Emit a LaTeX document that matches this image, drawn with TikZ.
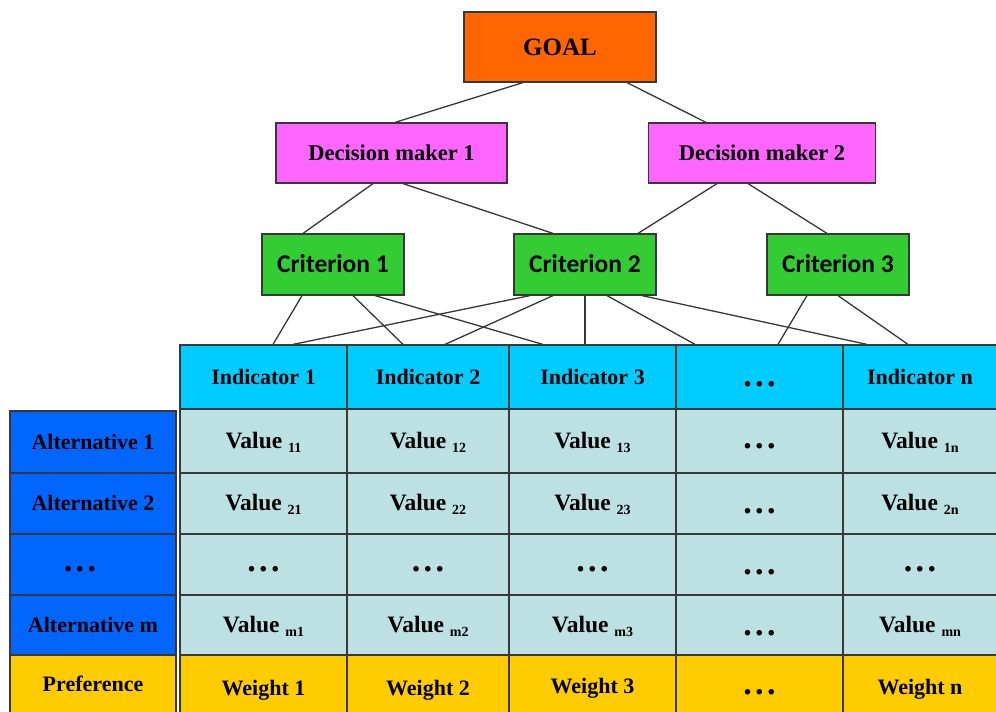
\documentclass[tikz,border=0pt]{standalone}
\usepackage{fontspec}
\setmainfont{Liberation Serif}
\newfontfamily\calib{Carlito}
\usetikzlibrary{calc}
\definecolor{goalc}{HTML}{FF6600}
\definecolor{dmc}{HTML}{FF66FF}
\definecolor{critc}{HTML}{33CC33}
\definecolor{headc}{HTML}{00CCFF}
\definecolor{valc}{HTML}{BDE0E3}
\definecolor{altc}{HTML}{0066FF}
\definecolor{wc}{HTML}{FFCC00}
\definecolor{edgec}{HTML}{383838}
\newcommand\sbs[1]{\raisebox{-4pt}{\fontsize{14}{14}\selectfont #1}}
\newcommand\vtext[1]{{\fontsize{23.5}{26}\selectfont Value \sbs{#1}}}
\newcommand\tdots{{\fontsize{34}{34}\selectfont .\hspace{3.5pt}.\hspace{3.5pt}.}}
\newcommand\cellnode[7]{\node[cellbox, fill=#6, minimum width=#4pt, minimum height=#5pt] (#1) at (#2,#3) {#7};}
\begin{document}
\begin{tikzpicture}[x=1pt,y=-1pt,
  cellbox/.style={draw=edgec, line width=1.2pt, inner sep=0pt, text height=14pt, text depth=0pt,
    font=\fontsize{22}{26}\selectfont\bfseries},
  topbox/.style={draw=edgec, line width=1.2pt, inner sep=0pt, text height=14pt, text depth=0pt,
    font=\fontsize{22.5}{26}\selectfont\bfseries},
  critbox/.style={draw=edgec, line width=1.2pt, inner sep=0pt, text height=16pt, text depth=0pt,
    fill=critc, minimum width=142pt, minimum height=61pt, font=\calib\fontsize{25.5}{30}\selectfont\bfseries},
  link/.style={draw=edgec, line width=1.3pt}]
\useasboundingbox (0,0) rectangle (996,712);
\fill[white] (0,0) rectangle (996,712);

% top hierarchy
\node[topbox, fill=goalc, minimum width=192pt, minimum height=70pt, text height=16pt, font=\fontsize{25}{29}\selectfont\bfseries] (goal) at (560,47) {GOAL};
\node[topbox, fill=dmc, minimum width=231pt, minimum height=60pt] (dm1) at (391.5,153) {Decision maker 1};
\node[topbox, fill=dmc, minimum width=227pt, minimum height=60pt] (dm2) at (762,153) {Decision maker 2};
\node[critbox] (c1) at (333,264.5) {Criterion 1};
\node[critbox] (c2) at (585,264.5) {Criterion 2};
\node[critbox] (c3) at (838,264.5) {Criterion 3};

% table header
\cellnode{h1}{263.5}{377}{167}{64}{headc}{Indicator 1}
\cellnode{h2}{428}{377}{162}{64}{headc}{Indicator 2}
\cellnode{h3}{592.5}{377}{167}{64}{headc}{Indicator 3}
\cellnode{h4}{759.5}{377}{167}{64}{headc}{\raisebox{-2pt}{\tdots}}
\cellnode{h5}{920}{377}{154}{64}{headc}{Indicator n}

% row 1
\cellnode{a1}{93}{442}{166}{62}{altc}{Alternative 1}
\cellnode{v11}{263.5}{441}{167}{64}{valc}{\vtext{11}}
\cellnode{v12}{428}{441}{162}{64}{valc}{\vtext{12}}
\cellnode{v13}{592.5}{441}{167}{64}{valc}{\vtext{13}}
\cellnode{v14}{759.5}{441}{167}{64}{valc}{\tdots}
\cellnode{v15}{920}{441}{154}{64}{valc}{\vtext{1n}}
% row 2
\cellnode{a2}{93}{503.5}{166}{61}{altc}{Alternative 2}
\cellnode{v21}{263.5}{503.5}{167}{61}{valc}{\vtext{21}}
\cellnode{v22}{428}{503.5}{162}{61}{valc}{\vtext{22}}
\cellnode{v23}{592.5}{503.5}{167}{61}{valc}{\vtext{23}}
\cellnode{v24}{759.5}{503.5}{167}{61}{valc}{\raisebox{-3pt}{\tdots}}
\cellnode{v25}{920}{503.5}{154}{61}{valc}{\vtext{2n}}
% row 3
\cellnode{a3}{93}{564.5}{166}{61}{altc}{\hspace{-26pt}\tdots}
\cellnode{v31}{263.5}{564.5}{167}{61}{valc}{\tdots}
\cellnode{v32}{428}{564.5}{162}{61}{valc}{\tdots}
\cellnode{v33}{592.5}{564.5}{167}{61}{valc}{\tdots}
\cellnode{v34}{759.5}{564.5}{167}{61}{valc}{\raisebox{-3pt}{\tdots}}
\cellnode{v35}{920}{564.5}{154}{61}{valc}{\tdots}
% row 4
\cellnode{a4}{93}{625}{166}{60}{altc}{Alternative m}
\cellnode{v41}{263.5}{625}{167}{60}{valc}{\vtext{m1}}
\cellnode{v42}{428}{625}{162}{60}{valc}{\vtext{m2}}
\cellnode{v43}{592.5}{625}{167}{60}{valc}{\vtext{m3}}
\cellnode{v44}{759.5}{625}{167}{60}{valc}{\raisebox{-3pt}{\tdots}}
\cellnode{v45}{920}{625}{154}{60}{valc}{\vtext{mn}}
% row 5
\cellnode{a5}{93}{684.5}{166}{59}{wc}{Preference}
\cellnode{w1}{263.5}{684.5}{167}{59}{wc}{\raisebox{-4pt}{Weight 1}}
\cellnode{w2}{428}{684.5}{162}{59}{wc}{\raisebox{-4pt}{Weight 2}}
\cellnode{w3}{592.5}{684.5}{167}{59}{wc}{\raisebox{-2pt}{Weight 3}}
\cellnode{w4}{759.5}{684.5}{167}{59}{wc}{\raisebox{-3pt}{\tdots}}
\cellnode{w5}{920}{684.5}{154}{59}{wc}{\raisebox{-3pt}{Weight n}}

% connectors
\draw[link] ([xshift=-37pt]goal.south) -- ([xshift=3.5pt]dm1.north);
\draw[link] ([xshift=67pt]goal.south) -- ([xshift=-56pt]dm2.north);
\draw[link] ([xshift=-18.5pt]dm1.south) -- ([xshift=-30pt]c1.north);
\draw[link] ([xshift=11.5pt]dm1.south) -- ([xshift=-32pt]c2.north);
\draw[link] ([xshift=-45pt]dm2.south) -- ([xshift=53pt]c2.north);
\draw[link] ([xshift=-14pt]dm2.south) -- ([xshift=-11pt]c3.north);
\draw[link] ([xshift=-31pt]c1.south) -- ([xshift=9.5pt]h1.north);
\draw[link] ([xshift=20pt]c1.south) -- ([xshift=-25pt]h2.north);
\draw[link] ([xshift=42pt]c1.south) -- ([xshift=-49.5pt]h3.north);
\draw[link] ([xshift=-55pt]c2.south) -- ([xshift=29.5pt]h1.north);
\draw[link] ([xshift=-32pt]c2.south) -- ([xshift=17pt]h2.north);
\draw[link] (c2.south) -- ([xshift=-7.5pt]h3.north);
\draw[link] ([xshift=22pt]c2.south) -- ([xshift=-64.5pt]h4.north);
\draw[link] ([xshift=57pt]c2.south) -- ([xshift=-53pt]h5.north);
\draw[link] ([xshift=-31pt]c3.south) -- ([xshift=18.5pt]h4.north);
\draw[link] (c3.south) -- ([xshift=-12pt]h5.north);
\end{tikzpicture}
\end{document}
